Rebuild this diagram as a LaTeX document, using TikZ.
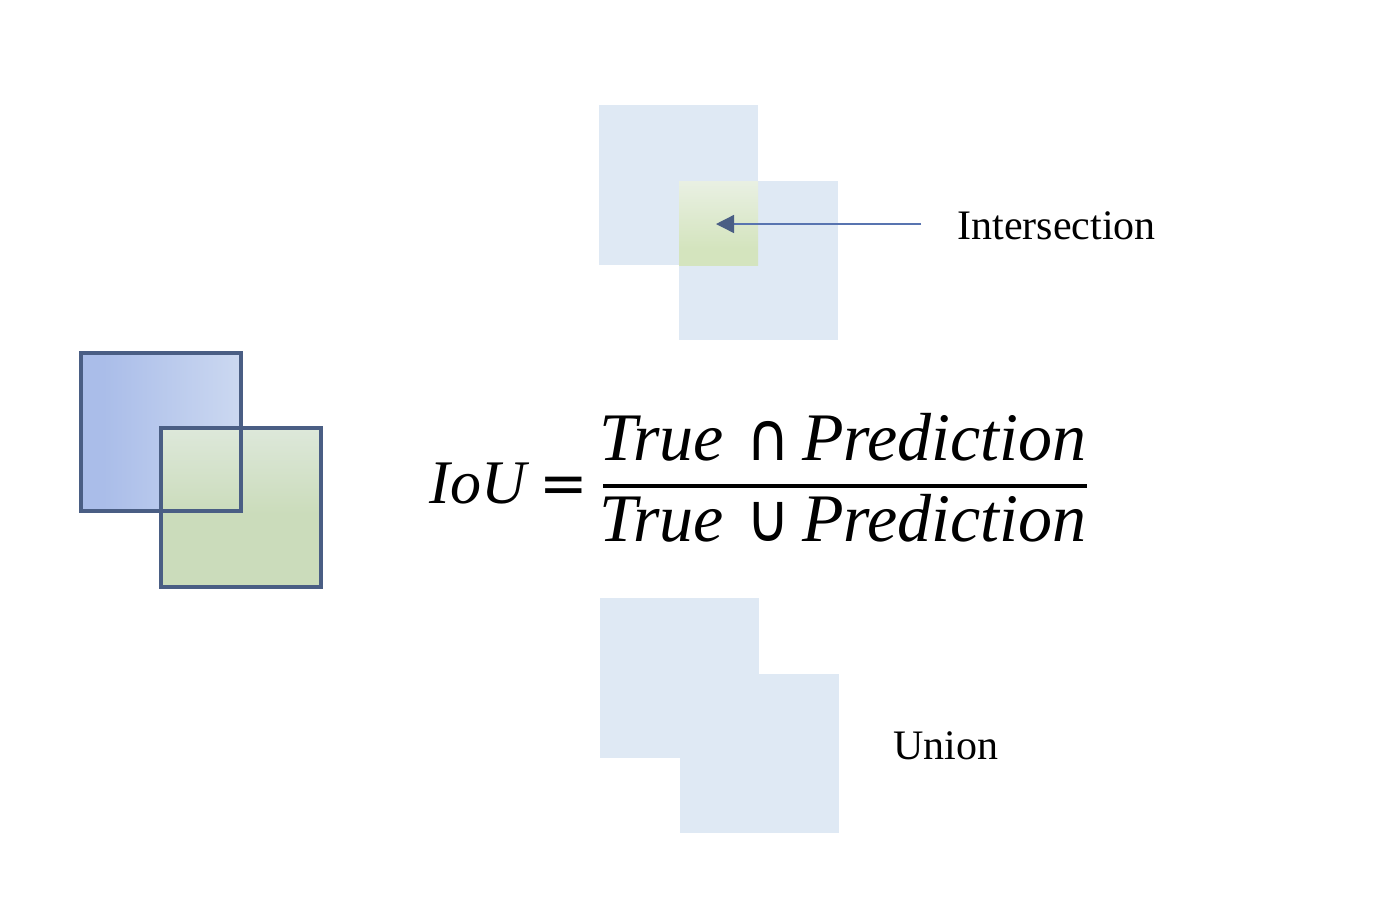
\documentclass[tikz,border=0pt]{standalone}
\usepackage{fontspec}
\setmainfont{Liberation Serif}
\newfontfamily\symfont{DejaVu Sans}
\usetikzlibrary{arrows.meta}
\definecolor{boxedge}{RGB}{74,94,132}
\definecolor{arrowline}{RGB}{88,116,176}
\definecolor{bluedark}{RGB}{170,189,233}
\definecolor{bluelight}{RGB}{223,232,245}
\definecolor{greenbox}{RGB}{203,220,187}
\definecolor{greentop}{RGB}{238,243,247}
\definecolor{pale}{RGB}{223,233,244}
\definecolor{intertop}{RGB}{246,248,250}
\definecolor{interbot}{RGB}{212,228,190}

\pgfdeclarehorizontalshading{bluefade}{100bp}{color(0bp)=(bluedark); color(32bp)=(bluedark); color(100bp)=(bluelight)}
\pgfdeclareverticalshading{greenfade}{100bp}{color(0bp)=(greenbox); color(48bp)=(greenbox); color(100bp)=(greentop)}
\pgfdeclareverticalshading{interfade}{100bp}{color(0bp)=(interbot); color(35bp)=(interbot); color(100bp)=(intertop)}

\newcommand{\bigop}[1]{{\upshape\symfont\fontsize{25}{30}\selectfont\scalebox{1.2}[1.35]{#1}}}

\begin{document}
\begin{tikzpicture}[x=0.5pt, y=-0.5pt,
    labeltext/.style={inner sep=0pt, anchor=west, font=\fontsize{21}{25}\selectfont},
    eqtext/.style={inner sep=0pt, anchor=base, font=\fontsize{34}{40}\selectfont\itshape}]

  % fond
  \fill[white] (0,0) rectangle (1400,907);

  % les deux boites de gauche
  \shade[shading=bluefade] (81,353) rectangle (241,511);
  \shade[shading=greenfade] (161,428) rectangle (321,587);
  \draw[boxedge, line width=1.6pt] (81,353) rectangle (241,511);
  \draw[boxedge, line width=1.6pt] (161,428) rectangle (321,587);

  % intersection
  \fill[pale] (599,105) rectangle (758,265);
  \fill[pale] (679,181) rectangle (838,340);
  \shade[shading=interfade] (679,181) rectangle (758,265);

  % union
  \fill[pale] (600,598) rectangle (759,758);
  \fill[pale] (680,674) rectangle (839,833);

  % etiquettes
  \node[labeltext] (interlabel) at (957,226) {Intersection};
  \node[labeltext] (unionlabel) at (893,746) {Union};

  \coordinate (arrowtail) at (921,224);
  \coordinate (arrowtip) at (716,224);
  \draw[arrowline, line width=0.7pt, -{Triangle[length=9pt, width=9pt, color=boxedge]}] (arrowtail) -- (arrowtip);

  % formule
  \node[eqtext, font=\fontsize{31}{37}\selectfont\itshape] (iou) at (478,503) {IoU};
  \node[eqtext, font=\fontsize{29}{34}\selectfont\symfont] (equals) at (564,503) {=};
  \node[eqtext] (num) at (843,460) {True\hspace{11pt}\bigop{∩}\hspace{6pt}Prediction};
  \node[eqtext] (den) at (843,541) {True\hspace{11pt}\bigop{∪}\hspace{6pt}Prediction};
  \coordinate (barleft) at (603,486);
  \coordinate (barright) at (1087,486);
  \draw[line width=2pt] (barleft) -- (barright);

\end{tikzpicture}
\end{document}
